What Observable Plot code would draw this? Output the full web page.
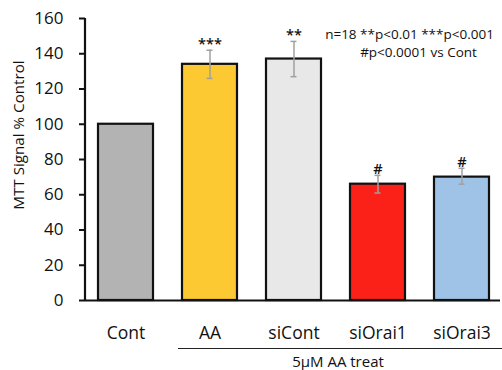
<!DOCTYPE html>
<html>
<head>
<meta charset="utf-8">
<script src="https://cdn.jsdelivr.net/npm/d3@7"></script>
<script src="https://cdn.jsdelivr.net/npm/@observablehq/plot@0.6"></script>
<style>
  html, body { margin: 0; padding: 0; background: #fff; }
  #chart { width: 502px; height: 370px; }
  svg { font-family: "Open Sans", sans-serif; }
</style>
</head>
<body>
<div id="chart"></div>
<script>
const categories = ["Cont", "AA", "siCont", "siOrai1", "siOrai3"];
const values = [100, 134, 137, 66, 70];
const errLow = [null, 126, 127, 61, 66];
const errHigh = [null, 142, 147, 71, 75];
const sigMarks = ["", "***", "**", "#", "#"];
const barColors = ["#b3b3b3", "#fcc932", "#e8e8e8", "#fb2119", "#9fc3e6"];
const yTicks = [0, 20, 40, 60, 80, 100, 120, 140, 160];
const yLabel = "MTT Signal % Control";
const groupLabel = "5µM AA treat";
const note1 = "n=18 **p<0.01 ***p<0.001";
const note2 = "#p<0.0001 vs Cont";

const data = categories.map((c, i) => ({
  cat: c, value: values[i], lo: errLow[i], hi: errHigh[i], sig: sigMarks[i], color: barColors[i]
}));
const errData = data.filter(d => d.lo != null);

const plot = Plot.plot({
  width: 502,
  height: 370,
  marginLeft: 85,
  marginRight: 0,
  marginTop: 18,
  marginBottom: 70,
  style: { fontFamily: "Open Sans, sans-serif", background: "#fff", overflow: "visible" },
  x: { domain: categories, paddingInner: 0.34, paddingOuter: 0.14, axis: null },
  y: { domain: [0, 160], ticks: yTicks, axis: null },
  marks: [
    Plot.barY(data, { x: "cat", y: "value", fill: "color", stroke: "#111", strokeWidth: 2.2 }),
    Plot.ruleX(errData, { x: "cat", y1: "lo", y2: "hi", stroke: "#a0a0a0", strokeWidth: 1.5 }),
    Plot.tickY(errData, { x: "cat", y: "lo", stroke: "#a0a0a0", strokeWidth: 1.5, insetLeft: 24.5, insetRight: 24.5 }),
    Plot.tickY(errData, { x: "cat", y: "hi", stroke: "#a0a0a0", strokeWidth: 1.5, insetLeft: 24.5, insetRight: 24.5 }),
    Plot.text(errData, { x: "cat", y: "hi", text: "sig", lineAnchor: "bottom", dy: -1, fontSize: 14.5, fontWeight: 600, fill: "#111" }),
    Plot.axisY({ ticks: yTicks, tickSize: 6, tickPadding: 16, fontSize: 17, label: null, stroke: "#111", strokeWidth: 2, fill: "#111" }),
    Plot.ruleY([0], { stroke: "#111", strokeWidth: 2.2, insetRight: 2 }),
    Plot.axisX({ tickSize: 0, tickPadding: 26, fontSize: 17.5, label: null, fill: "#111" })
  ]
});

const svg = d3.select(plot);
// y axis line
svg.append("line")
  .attr("x1", 85).attr("x2", 85).attr("y1", 18).attr("y2", 301)
  .attr("stroke", "#111").attr("stroke-width", 2.2);
// y label
svg.append("text")
  .attr("transform", "translate(24,135) rotate(-90)")
  .attr("text-anchor", "middle")
  .attr("font-size", 15.2)
  .attr("fill", "#111")
  .text(yLabel);
// group line and label
svg.append("line")
  .attr("x1", 178).attr("x2", 502).attr("y1", 348.5).attr("y2", 348.5)
  .attr("stroke", "#222").attr("stroke-width", 1);
svg.append("text")
  .attr("x", 338).attr("y", 366.5)
  .attr("text-anchor", "middle").attr("font-size", 15).attr("fill", "#111")
  .text(groupLabel);
// notes
svg.append("text")
  .attr("x", 409.5).attr("y", 38.5)
  .attr("text-anchor", "middle").attr("font-size", 13.5).attr("fill", "#111")
  .text(note1);
svg.append("text")
  .attr("x", 418.5).attr("y", 57)
  .attr("text-anchor", "middle").attr("font-size", 13.5).attr("fill", "#111")
  .text(note2);

document.getElementById("chart").appendChild(plot);
</script>
</body>
</html>
